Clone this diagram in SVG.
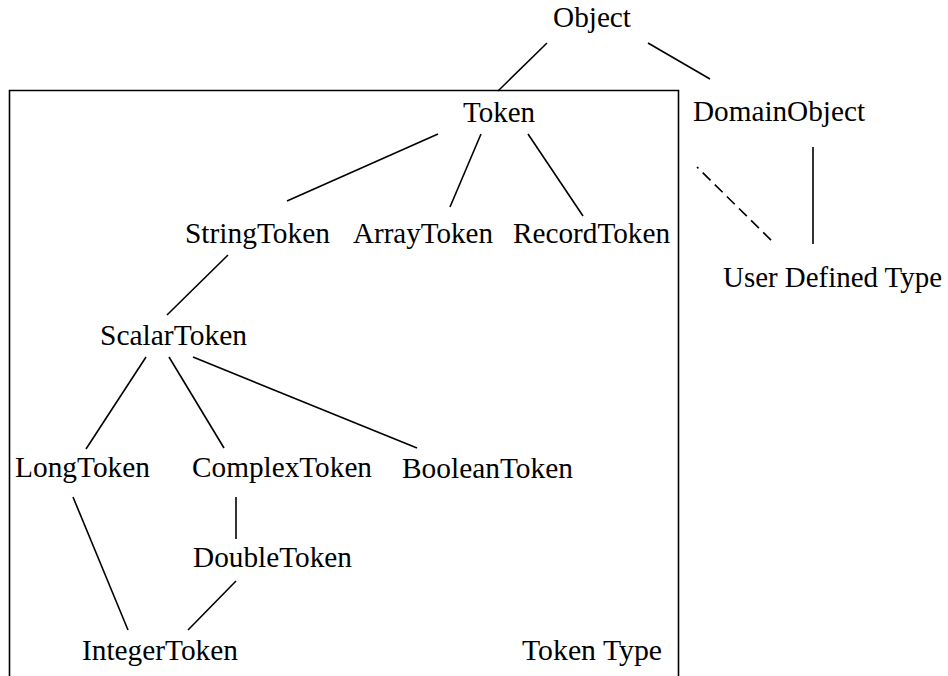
<svg xmlns="http://www.w3.org/2000/svg" width="948" height="676" viewBox="0 0 948 676">
<style>
text{font-family:"Liberation Serif","Times New Roman",serif;font-size:29px;fill:#000}
.c line,.c path{stroke:#000;stroke-width:1.6;fill:none}
.frame{stroke:#000;stroke-width:1.6;fill:none}
</style>
<rect width="948" height="676" fill="#fff"/>
<path class="frame" d="M9.5,680 V90.5 H678.5 V680"/>
<g class="c">
<line x1="547" y1="43" x2="498" y2="91"/>
<line x1="648" y1="43" x2="710" y2="79"/>
<line x1="438" y1="134" x2="287" y2="201"/>
<line x1="481" y1="134" x2="450" y2="207"/>
<line x1="528" y1="134" x2="583" y2="216"/>
<line x1="228" y1="255" x2="167" y2="315"/>
<line x1="146" y1="357" x2="86" y2="449"/>
<line x1="169" y1="357" x2="224" y2="448"/>
<line x1="193" y1="357" x2="417" y2="448"/>
<line x1="73" y1="497" x2="128" y2="630"/>
<line x1="236" y1="497" x2="236" y2="539"/>
<line x1="236" y1="581" x2="188" y2="630"/>
<line x1="813" y1="147" x2="813" y2="244"/>
<line x1="697" y1="167" x2="775" y2="244" stroke-dasharray="2 6 11 6 11 6 11 6 11 6 11 6 11 6"/>
</g>
<g id="object"><text x="553" y="27" textLength="78" lengthAdjust="spacingAndGlyphs">Object</text></g>
<g id="token"><text x="463" y="122" textLength="72" lengthAdjust="spacingAndGlyphs">Token</text></g>
<g id="domainobject"><text x="693" y="121" textLength="172" lengthAdjust="spacingAndGlyphs">DomainObject</text></g>
<g id="stringtoken"><text x="185" y="243" textLength="145" lengthAdjust="spacingAndGlyphs">StringToken</text></g>
<g id="arraytoken"><text x="353" y="243" textLength="140" lengthAdjust="spacingAndGlyphs">ArrayToken</text></g>
<g id="recordtoken"><text x="513" y="243" textLength="157" lengthAdjust="spacingAndGlyphs">RecordToken</text></g>
<g id="userdefinedtype"><text x="723" y="287" textLength="219" lengthAdjust="spacingAndGlyphs">User Defined Type</text></g>
<g id="scalartoken"><text x="100" y="345" textLength="147" lengthAdjust="spacingAndGlyphs">ScalarToken</text></g>
<g id="longtoken"><text x="15" y="477" textLength="135" lengthAdjust="spacingAndGlyphs">LongToken</text></g>
<g id="complextoken"><text x="192" y="477" textLength="180" lengthAdjust="spacingAndGlyphs">ComplexToken</text></g>
<g id="booleantoken"><text x="402" y="478" textLength="171" lengthAdjust="spacingAndGlyphs">BooleanToken</text></g>
<g id="doubletoken"><text x="193" y="567" textLength="159" lengthAdjust="spacingAndGlyphs">DoubleToken</text></g>
<g id="integertoken"><text x="82" y="660" textLength="156" lengthAdjust="spacingAndGlyphs">IntegerToken</text></g>
<g id="tokentype"><text x="522" y="660" textLength="140" lengthAdjust="spacingAndGlyphs">Token Type</text></g>
</svg>
